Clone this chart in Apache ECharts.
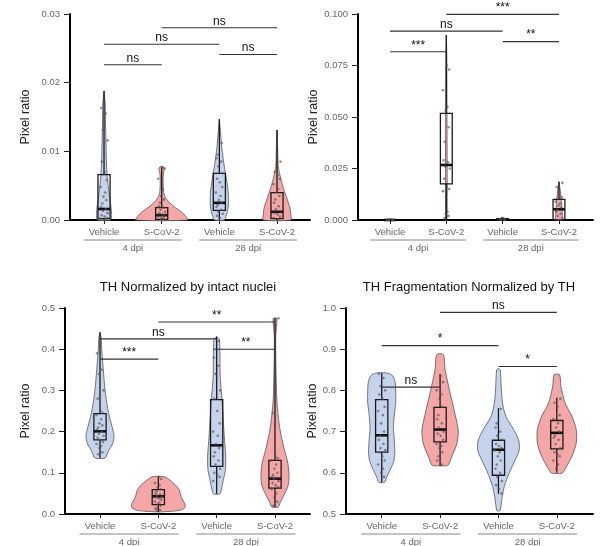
<!DOCTYPE html>
<html><head><meta charset="utf-8">
<script src="https://cdn.jsdelivr.net/npm/echarts@6/dist/echarts.min.js"></script>
<style>html,body{margin:0;padding:0;background:#fff}#c{width:600px;height:546px}</style>
</head><body><div id="c"></div>
<script>
// ---------- DATA ----------
const categories = ['Vehicle', 'S-CoV-2', 'Vehicle', 'S-CoV-2'];
const groupLabels = ['4 dpi', '28 dpi'];
const groupSpans = [[1, 2], [3, 4]];
const panelTitles = ['', '', 'TH Normalized by intact nuclei', 'TH Fragmentation Normalized by TH'];
const yAxisName = 'Pixel ratio';

// box stats: [whiskerLow, q1, median, q3, whiskerHigh]
const boxTL = [[0, 0.0002, 0.0016, 0.0066, 0.0188], [0, 0.0001, 0.0007, 0.0018, 0.0077], [0, 0.0014, 0.0025, 0.0068, 0.0147], [0, 0.0002, 0.0012, 0.0040, 0.0131]];
const boxTR = [[0, 0, 0, 0, 0.0005], [0, 0.0175, 0.0267, 0.0518, 0.0898], [0, 0, 0.0003, 0.0006, 0.0015], [0, 0.0001, 0.0052, 0.0100, 0.0186]];
const boxBL = [[0.136, 0.180, 0.2007, 0.2435, 0.441], [0.005, 0.0227, 0.043, 0.059, 0.090], [0.049, 0.1157, 0.1667, 0.2775, 0.430], [0.017, 0.063, 0.0858, 0.130, 0.476]];
const boxBR = [[0.577, 0.650, 0.691, 0.7775, 0.842], [0.617, 0.675, 0.705, 0.759, 0.840], [0.549, 0.594, 0.656, 0.679, 0.757], [0.600, 0.658, 0.697, 0.727, 0.782]];

// violin profiles: [value, half width in category units]
const violinTL = [
  [[0.0188, 0], [0.017, 0.02], [0.014, 0.026], [0.011, 0.035], [0.008, 0.043], [0.006, 0.06], [0.004, 0.086], [0.003, 0.10], [0.002, 0.12], [0.001, 0.13], [0.0003, 0.13], [0, 0.10]],
  [[0.0078, 0], [0.0077, 0.035], [0.0074, 0.05], [0.0070, 0.035], [0.0062, 0.026], [0.0050, 0.026], [0.0040, 0.035], [0.0034, 0.057], [0.0027, 0.115], [0.0019, 0.22], [0.0012, 0.34], [0.0006, 0.41], [0, 0.45]],
  [[0.0147, 0], [0.0126, 0.022], [0.0102, 0.047], [0.0078, 0.086], [0.0058, 0.126], [0.0039, 0.155], [0.0019, 0.155], [0.0005, 0.115], [0, 0.086]],
  [[0.0131, 0], [0.0102, 0.012], [0.0078, 0.022], [0.0063, 0.057], [0.0049, 0.10], [0.0034, 0.16], [0.0019, 0.22], [0.0007, 0.24], [0, 0.24]]
];
const violinTR = [
  [[0.0006, 0], [0.0004, 0.03], [0, 0.03]],
  [[0.0898, 0], [0.08, 0.008], [0.05, 0.012], [0.025, 0.015], [0.003, 0.015], [0, 0.01]],
  [[0.0015, 0], [0.0008, 0.02], [0, 0.03]],
  [[0.0186, 0], [0.015, 0.02], [0.010, 0.04], [0.005, 0.055], [0.002, 0.06], [0, 0.06]]
];
const violinBL = [
  [[0.441, 0], [0.431, 0.017], [0.391, 0.034], [0.35, 0.057], [0.31, 0.08], [0.27, 0.115], [0.237, 0.16], [0.205, 0.22], [0.189, 0.24], [0.172, 0.22], [0.152, 0.143], [0.136, 0.086]],
  [[0.0914, 0], [0.090, 0.115], [0.075, 0.26], [0.059, 0.357], [0.043, 0.39], [0.031, 0.43], [0.0227, 0.46], [0.0146, 0.45], [0.009, 0.37], [0.0065, 0.22], [0.005, 0]],
  [[0.431, 0], [0.423, 0.046], [0.383, 0.057], [0.334, 0.06], [0.286, 0.086], [0.237, 0.11], [0.189, 0.13], [0.14, 0.155], [0.108, 0.15], [0.083, 0.115], [0.063, 0.086], [0.049, 0.057]],
  [[0.476, 0], [0.474, 0.034], [0.431, 0.012], [0.35, 0.017], [0.27, 0.034], [0.205, 0.086], [0.156, 0.16], [0.124, 0.22], [0.091, 0.24], [0.067, 0.22], [0.043, 0.143], [0.027, 0.086], [0.017, 0.057]]
];
const violinBR = [
  [[0.842, 0.10], [0.835, 0.19], [0.82, 0.23], [0.80, 0.24], [0.77, 0.24], [0.74, 0.215], [0.71, 0.20], [0.68, 0.215], [0.65, 0.225], [0.63, 0.21], [0.61, 0.155], [0.59, 0.086], [0.577, 0.05]],
  [[0.887, 0.057], [0.85, 0.086], [0.801, 0.16], [0.752, 0.24], [0.704, 0.31], [0.672, 0.29], [0.639, 0.20], [0.619, 0.143], [0.617, 0.10]],
  [[0.853, 0], [0.85, 0.03], [0.81, 0.047], [0.769, 0.07], [0.737, 0.126], [0.705, 0.26], [0.68, 0.345], [0.656, 0.357], [0.632, 0.29], [0.60, 0.185], [0.567, 0.10], [0.535, 0.057], [0.509, 0.03], [0.507, 0]],
  [[0.838, 0.047], [0.81, 0.07], [0.769, 0.143], [0.737, 0.26], [0.705, 0.333], [0.672, 0.333], [0.64, 0.26], [0.616, 0.17], [0.60, 0.10], [0.598, 0.05]]
];

// jittered observations
const pointsTL = [
  [0.0163, 0.0155, 0.0131, 0.0116, 0.0085, 0.0070, 0.0058, 0.0048, 0.0040, 0.0034, 0.0029, 0.0024, 0.0019, 0.0016, 0.0013, 0.0010, 0.0007, 0.0005, 0.0003, 0.0002, 0.0001],
  [0.0077, 0.0075, 0.0060, 0.0045, 0.0035, 0.0030, 0.0025, 0.0020, 0.0018, 0.0015, 0.0012, 0.0010, 0.0008, 0.0006, 0.0005, 0.0003, 0.0002, 0.0001],
  [0.0112, 0.0095, 0.0090, 0.0085, 0.0078, 0.0068, 0.0060, 0.0055, 0.0048, 0.0040, 0.0035, 0.0029, 0.0025, 0.0022, 0.0019, 0.0015, 0.0012, 0.0009, 0.0006, 0.0003],
  [0.0085, 0.0070, 0.0065, 0.0060, 0.0052, 0.0045, 0.0040, 0.0035, 0.0030, 0.0025, 0.0020, 0.0016, 0.0013, 0.0010, 0.0008, 0.0005, 0.0003, 0.0001]
];
const pointsTR = [
  [0, 0, 0, 0.0002, 0.0003],
  [0.075, 0.073, 0.063, 0.055, 0.053, 0.045, 0.038, 0.029, 0.028, 0.026, 0.025, 0.020, 0.016, 0.015, 0.014, 0.004, 0.003, 0.002, 0.001],
  [0, 0.0002, 0.0004, 0.0006, 0.0010],
  [0.018, 0.016, 0.012, 0.011, 0.009, 0.008, 0.007, 0.006, 0.005, 0.004, 0.003, 0.002, 0.001]
];
const pointsBL = [
  [0.39, 0.35, 0.34, 0.30, 0.28, 0.25, 0.245, 0.24, 0.23, 0.22, 0.215, 0.21, 0.205, 0.20, 0.195, 0.19, 0.185, 0.18, 0.175, 0.17, 0.165, 0.16, 0.15, 0.145],
  [0.090, 0.085, 0.075, 0.070, 0.065, 0.060, 0.055, 0.050, 0.048, 0.045, 0.042, 0.040, 0.038, 0.035, 0.030, 0.028, 0.025, 0.020, 0.015, 0.012, 0.010, 0.008],
  [0.42, 0.40, 0.38, 0.36, 0.34, 0.30, 0.28, 0.25, 0.22, 0.20, 0.19, 0.17, 0.16, 0.15, 0.14, 0.13, 0.12, 0.11, 0.10, 0.095, 0.09, 0.08],
  [0.475, 0.245, 0.14, 0.135, 0.13, 0.12, 0.11, 0.10, 0.095, 0.09, 0.088, 0.085, 0.08, 0.075, 0.07, 0.065, 0.06, 0.05, 0.04, 0.03, 0.02]
];
const pointsBR = [
  [0.84, 0.83, 0.81, 0.80, 0.79, 0.78, 0.76, 0.75, 0.74, 0.72, 0.70, 0.69, 0.68, 0.67, 0.66, 0.655, 0.65, 0.64, 0.63, 0.62, 0.61, 0.60, 0.59],
  [0.835, 0.82, 0.80, 0.79, 0.78, 0.76, 0.74, 0.73, 0.72, 0.71, 0.70, 0.695, 0.69, 0.68, 0.67, 0.665, 0.66, 0.65, 0.64, 0.63, 0.62],
  [0.755, 0.72, 0.71, 0.70, 0.69, 0.68, 0.67, 0.665, 0.66, 0.655, 0.65, 0.64, 0.63, 0.62, 0.61, 0.60, 0.59, 0.58, 0.57, 0.56, 0.55],
  [0.78, 0.77, 0.76, 0.74, 0.73, 0.72, 0.71, 0.70, 0.69, 0.685, 0.68, 0.67, 0.66, 0.65, 0.645, 0.64, 0.63, 0.62, 0.61]
];

// significance brackets: [fromCategory, toCategory, level, label]
const bracketsTL = [[1, 2, 0.0226, 'ns'], [1, 3, 0.0256, 'ns'], [3, 4, 0.0241, 'ns'], [2, 4, 0.0280, 'ns']];
const bracketsTR = [[1, 2, 0.0817, '***'], [1, 3, 0.0917, 'ns'], [3, 4, 0.0866, '**'], [2, 4, 0.0998, '***']];
const bracketsBL = [[1, 2, 0.376, '***'], [1, 3, 0.425, 'ns'], [3, 4, 0.400, '**'], [2, 4, 0.466, '**']];
const bracketsBR = [[1, 2, 0.808, 'ns'], [1, 3, 0.9086, '*'], [3, 4, 0.858, '*'], [2, 4, 0.9895, 'ns']];

// y-axis ranges
const yRanges = [[0, 0.03, 0.01, 2], [0, 0.1, 0.025, 3], [0, 0.5, 0.1, 1], [0.5, 1.0, 0.1, 1]];

// ---------- LAYOUT / STYLE ----------
const FONT = 'Liberation Sans, Arial, sans-serif';
const FILLS = ['#c5d4ec', '#f5a7a7', '#c5d4ec', '#f5a7a7'];
const layouts = [
  {left: 70, top: 14, width: 240, height: 206, xmin: 0.41, xmax: 4.572, nameGap: 38},
  {left: 358, top: 14, width: 235, height: 206, xmin: 0.432, xmax: 4.604, nameGap: 36},
  {left: 65, top: 308, width: 245, height: 206, xmin: 0.4, xmax: 4.6, nameGap: 33},
  {left: 346, top: 308, width: 247, height: 206, xmin: 0.388, xmax: 4.62, nameGap: 24}
];
const titlePos = [null, null, [188, 287], [469, 287]];
const jitter = [-0.05, 0.03, -0.02, 0.06, -0.04, 0.01, 0.05, -0.06, 0.02, -0.01, 0.04, -0.03];
const BOXW = 0.105;

const panels = [
  {box: boxTL, violin: violinTL, points: pointsTL, brackets: bracketsTL},
  {box: boxTR, violin: violinTR, points: pointsTR, brackets: bracketsTR},
  {box: boxBL, violin: violinBL, points: pointsBL, brackets: bracketsBL},
  {box: boxBR, violin: violinBR, points: pointsBR, brackets: bracketsBR}
];

const grid = [], xAxis = [], yAxis = [], series = [], graphic = [];

panels.forEach((p, k) => {
  const L = layouts[k];
  const [ymin, ymax, yint, dec] = yRanges[k];
  grid.push({left: L.left, top: L.top, width: L.width, height: L.height, containLabel: false});
  xAxis.push({
    type: 'value', gridIndex: k, min: L.xmin, max: L.xmax,
    axisLine: {show: true, onZero: false, lineStyle: {color: '#000', width: 2}},
    axisTick: {show: true, customValues: [1, 2, 3, 4], length: 4, lineStyle: {color: '#222', width: 1}},
    axisLabel: {customValues: [1, 2, 3, 4], formatter: v => categories[Math.round(v) - 1], color: '#666', fontSize: 9.5, fontFamily: FONT, margin: 7},
    splitLine: {show: false}
  });
  yAxis.push({
    type: 'value', gridIndex: k, min: ymin, max: ymax, interval: yint,
    name: yAxisName, nameLocation: 'middle', nameGap: L.nameGap, nameRotate: 90,
    nameTextStyle: {fontSize: 12.5, color: '#222', fontFamily: FONT},
    axisLine: {show: true, lineStyle: {color: '#000', width: 2}},
    axisTick: {show: true, length: 6, lineStyle: {color: '#222', width: 1}},
    axisLabel: {formatter: v => v.toFixed(dec), color: '#666', fontSize: 9.5, fontFamily: FONT, margin: 10},
    splitLine: {show: false}
  });

  // violins
  series.push({
    type: 'custom', xAxisIndex: k, yAxisIndex: k, z: 2, silent: true,
    data: categories.map((c, i) => [i + 1, p.box[i][2]]),
    renderItem: (params, api) => {
      const i = params.dataIndex, prof = p.violin[i], cx = i + 1;
      const pts = [];
      prof.forEach(d => pts.push(api.coord([cx + d[1], d[0]])));
      for (let j = prof.length - 1; j >= 0; j--) pts.push(api.coord([cx - prof[j][1], prof[j][0]]));
      return {type: 'polygon', shape: {points: pts, smooth: 0.25}, style: {fill: FILLS[i], stroke: '#555', lineWidth: 0.8}};
    }
  });

  // boxes
  series.push({
    type: 'custom', xAxisIndex: k, yAxisIndex: k, z: 3, silent: true,
    data: categories.map((c, i) => [i + 1, p.box[i][2]]),
    renderItem: (params, api) => {
      const i = params.dataIndex, cx = i + 1;
      const [lo, q1, med, q3, hi] = p.box[i];
      const a = api.coord([cx - BOXW, q3]), b = api.coord([cx + BOXW, q1]);
      const m1 = api.coord([cx - BOXW, med]), m2 = api.coord([cx + BOXW, med]);
      const t0 = api.coord([cx, hi]), t1 = api.coord([cx, q3]);
      const b0 = api.coord([cx, q1]), b1 = api.coord([cx, lo]);
      const st = {stroke: '#1a1a1a', lineWidth: 1.3, fill: null};
      return {type: 'group', children: [
        {type: 'line', shape: {x1: t0[0], y1: t0[1], x2: t1[0], y2: t1[1]}, style: st},
        {type: 'line', shape: {x1: b0[0], y1: b0[1], x2: b1[0], y2: b1[1]}, style: st},
        {type: 'rect', shape: {x: a[0], y: a[1], width: b[0] - a[0], height: b[1] - a[1]}, style: st},
        {type: 'line', shape: {x1: m1[0], y1: m1[1], x2: m2[0], y2: m2[1]}, style: {stroke: '#111', lineWidth: 2.6}}
      ]};
    }
  });

  // points
  const pts = [];
  p.points.forEach((arr, i) => arr.forEach((v, j) => pts.push([i + 1 + jitter[(j + i * 5) % jitter.length], v])));
  series.push({
    type: 'scatter', xAxisIndex: k, yAxisIndex: k, z: 4, silent: true, symbolSize: 2.6,
    itemStyle: {color: '#555', opacity: 0.65}, data: pts
  });

  // brackets
  series.push({
    type: 'custom', xAxisIndex: k, yAxisIndex: k, z: 5, silent: true,
    data: p.brackets.map(b => [b[0], b[2]]),
    renderItem: (params, api) => {
      const b = p.brackets[params.dataIndex];
      const s = api.coord([b[0], b[2]]), e = api.coord([b[1], b[2]]);
      return {type: 'group', children: [
        {type: 'line', shape: {x1: s[0], y1: s[1], x2: e[0], y2: e[1]}, style: {stroke: '#333', lineWidth: 1.1}},
        {type: 'text', x: (s[0] + e[0]) / 2, y: s[1] - 0.5, style: {text: b[3], fill: '#111', fontSize: 12, fontFamily: FONT, align: 'center', verticalAlign: 'bottom'}}
      ]};
    }
  });

  // group labels under the x axis
  series.push({
    type: 'custom', xAxisIndex: k, yAxisIndex: k, z: 5, silent: true, clip: false,
    data: groupSpans.map(g => [(g[0] + g[1]) / 2, ymin]),
    renderItem: (params, api) => {
      const g = groupSpans[params.dataIndex], c = (g[0] + g[1]) / 2;
      const s = api.coord([c - 0.85, ymin]), e = api.coord([c + 0.85, ymin]);
      const yl = s[1] + 20;
      return {type: 'group', children: [
        {type: 'line', shape: {x1: s[0], y1: yl, x2: e[0], y2: yl}, style: {stroke: '#888', lineWidth: 1}},
        {type: 'text', x: (s[0] + e[0]) / 2, y: yl + 8, style: {text: groupLabels[params.dataIndex], fill: '#666', fontSize: 9.5, fontFamily: FONT, align: 'center', verticalAlign: 'middle'}}
      ]};
    }
  });

  if (panelTitles[k]) {
    graphic.push({type: 'text', x: titlePos[k][0], y: titlePos[k][1],
      style: {text: panelTitles[k], fill: '#111', fontSize: 13, fontFamily: FONT, align: 'center', verticalAlign: 'middle'}});
  }
});

const chart = echarts.init(document.getElementById('c'), null, {renderer: 'canvas'});
chart.setOption({
  animation: false,
  backgroundColor: '#fff',
  textStyle: {fontFamily: FONT},
  grid, xAxis, yAxis, series, graphic
});
</script></body></html>
